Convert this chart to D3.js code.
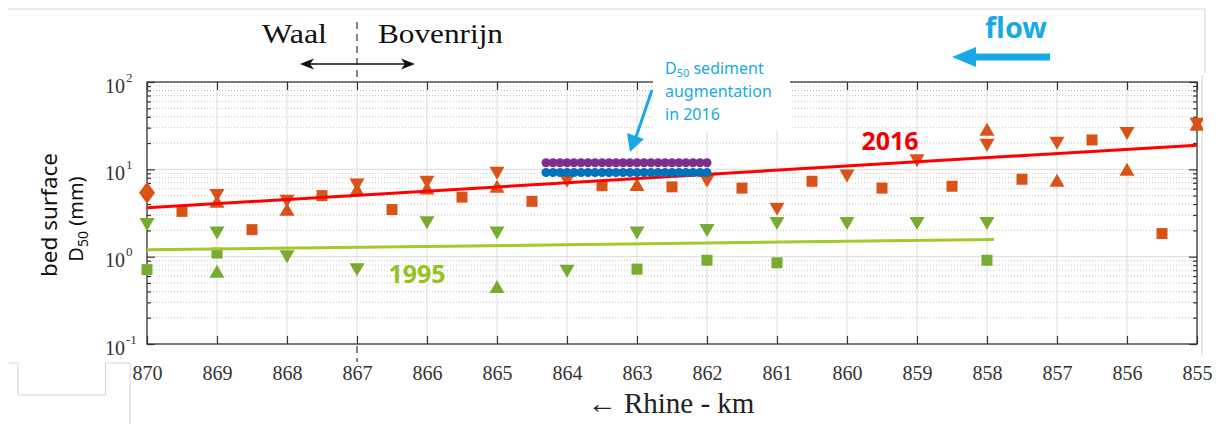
<!DOCTYPE html>
<html>
<head>
<meta charset="utf-8">
<script src="https://cdn.jsdelivr.net/npm/d3@7"></script>
<style>
    body { margin: 0; background: #fff; }
    svg { display: block; }
    .serif { font-family: 'Liberation Serif', 'Times New Roman', 'DejaVu Serif', serif; }
    .sans { font-family: 'Noto Sans', 'Open Sans', sans-serif; }
</style>
</head>
<body>
<div class="chart"></div>
<script>
// Data (km, D50 in mm).
const kmTicks = [870, 869, 868, 867, 866, 865, 864, 863, 862, 861, 860, 859, 858, 857, 856, 855];
const decadeTicks = [0.1, 1, 10, 100];
const decadeLabels = [['10', '-1'], ['10', '0'], ['10', '1'], ['10', '2']];

// 2016 survey (orange)
const down2016 = [[869, 5.0], [868, 4.3], [867, 6.6], [866, 7.1], [865, 9.0], [864, 7.3], [862, 7.3],
    [861, 3.5], [860, 8.4], [859, 12.5], [858, 18.9], [857, 19.9], [856, 25.7], [855, 32.9]];
const up2016 = [[869, 4.3], [868, 3.5], [867, 5.9], [866, 6.1], [865, 6.4], [863, 6.7],
    [858, 28.8], [857, 7.5], [856, 10.0], [855, 32.9]];
const square2016 = [[869.5, 3.3], [868.5, 2.04], [867.5, 5.0], [866.5, 3.47], [865.5, 4.8], [864.5, 4.3],
    [863.5, 6.5], [862.5, 6.3], [861.5, 6.1], [860.5, 7.3], [859.5, 6.1], [858.5, 6.4], [857.5, 7.7],
    [856.5, 21.7], [855.5, 1.84]];
const diamond2016 = [[870, 5.4]];

// 1995 survey (green)
const down1995 = [[870, 2.33], [869, 1.87], [868, 1.0], [867, 0.71], [866, 2.44], [865, 1.87], [864, 0.68],
    [863, 1.87], [862, 1.99], [861, 2.39], [860, 2.39], [859, 2.39], [858, 2.39]];
const square1995 = [[870, 0.71], [869, 1.10], [863, 0.72], [862, 0.91], [861, 0.85], [858, 0.91]];
const up1995 = [[869, 0.68], [865, 0.456]];

// trend lines
const trend2016 = [[870, 3.63], [855, 18.9]];
const trend1995 = [[870, 1.2], [857.9, 1.57]];

// sediment augmentation 2016
const augKm = [864.3, 864.2, 864.1, 864.0, 863.9, 863.8, 863.7, 863.6, 863.5, 863.4, 863.3, 863.2,
    863.1, 863.0, 862.9, 862.8, 862.7, 862.6, 862.5, 862.4, 862.3, 862.2, 862.1, 862.0];
const augPurpleD50 = 11.9;
const augBlueD50 = 9.2;

const ORANGE = '#D95319';
const GREEN = '#77AC30';
const CYAN = '#17A9E6';
const SERIF = "'Liberation Serif', 'Times New Roman', serif";

const svg = d3.select('.chart').append('svg')
    .attr('width', 1216)
    .attr('height', 424);

const area = {left: 147, right: 1197, top: 82, bottom: 344};

const x = d3.scaleLinear().domain([870, 855]).range([area.left, area.right]);
const y = d3.scaleLog().domain([0.1, 100]).range([area.bottom, area.top]);
const minorTicks = y.ticks().filter(d => !decadeTicks.some(t => Math.abs(t - d) < 1e-9));

// slide frame remnants
const frame = svg.append('g').attr('fill', 'none').attr('stroke', '#d6d6d6').attr('stroke-width', 1);
frame.append('path').attr('d', 'M8,9H1205V73');
frame.append('path').attr('d', 'M1202,75V357');
frame.append('path').attr('d', 'M9,363H18V395H105.5V363H130V424');

// divider Waal / Bovenrijn (only visible outside the axes box)
svg.append('line')
    .attr('x1', x(867)).attr('x2', x(867)).attr('y1', 22).attr('y2', 362)
    .attr('stroke', '#333').attr('stroke-width', 1.2).attr('stroke-dasharray', '7,5');
svg.append('rect')
    .attr('x', area.left).attr('y', area.top)
    .attr('width', area.right - area.left).attr('height', area.bottom - area.top)
    .attr('fill', '#fff');

// grid
const grid = svg.append('g');
grid.selectAll('.gy-minor')
    .data(minorTicks)
    .enter()
    .append('line')
    .attr('x1', area.left).attr('x2', area.right)
    .attr('y1', d => y(d)).attr('y2', d => y(d))
    .attr('stroke', '#c4c4c4').attr('stroke-dasharray', '1,2');
grid.selectAll('.gy-major')
    .data(decadeTicks.slice(1, -1))
    .enter()
    .append('line')
    .attr('x1', area.left).attr('x2', area.right)
    .attr('y1', d => y(d)).attr('y2', d => y(d))
    .attr('stroke', '#dcdcdc');
grid.selectAll('.gx')
    .data(kmTicks.slice(1, -1))
    .enter()
    .append('line')
    .attr('x1', d => x(d)).attr('x2', d => x(d))
    .attr('y1', area.top).attr('y2', area.bottom)
    .attr('stroke', '#dcdcdc');

// axes
function styleAxis(g) {
    g.select('.domain').remove();
    g.selectAll('line').attr('stroke', '#333').attr('stroke-width', 1.2);
}

svg.append('g')
    .attr('transform', `translate(0,${area.bottom})`)
    .call(d3.axisBottom(x).tickValues(kmTicks).tickSizeInner(-8).tickSizeOuter(0)
        .tickPadding(22).tickFormat(d3.format('d')))
    .call(styleAxis)
    .call(g => g.selectAll('text')
        .style('font-family', SERIF).style('font-size', '20px').attr('fill', '#333'));

svg.append('g')
    .attr('transform', `translate(0,${area.top})`)
    .call(d3.axisTop(x).tickValues(kmTicks).tickSizeInner(-8).tickSizeOuter(0).tickFormat(''))
    .call(styleAxis);

[[d3.axisLeft, area.left], [d3.axisRight, area.right]].forEach(([axisFn, pos]) => {
    svg.append('g')
        .attr('transform', `translate(${pos},0)`)
        .call(axisFn(y).tickValues(decadeTicks).tickSizeInner(-8).tickSizeOuter(0).tickFormat(''))
        .call(styleAxis);
    svg.append('g')
        .attr('transform', `translate(${pos},0)`)
        .call(axisFn(y).tickValues(minorTicks).tickSizeInner(-4).tickSizeOuter(0).tickFormat(''))
        .call(styleAxis);
});

svg.append('rect')
    .attr('x', area.left).attr('y', area.top)
    .attr('width', area.right - area.left).attr('height', area.bottom - area.top)
    .attr('fill', 'none').attr('stroke', '#333').attr('stroke-width', 1.3);

const yLabels = svg.append('g')
    .selectAll('text')
    .data(decadeTicks)
    .enter()
    .append('text')
    .attr('x', 105)
    .attr('y', d => y(d) + 10.5)
    .style('font-family', SERIF).style('font-size', '20px').attr('fill', '#333');
yLabels.append('tspan').text((d, i) => decadeLabels[i][0]);
yLabels.append('tspan').attr('dx', 1).attr('dy', -11).style('font-size', '13px').text((d, i) => decadeLabels[i][1]);

// markers
const plot = svg.append('g');
svg.append('clipPath').attr('id', 'clip')
    .append('rect').attr('x', 0).attr('y', 0).attr('width', 1203).attr('height', 424);
plot.attr('clip-path', 'url(#clip)');

const shapes = {
    down: 'M-7.5,-6.5L7.5,-6.5L0,6.5Z',
    up: 'M0,-6.5L7.5,6.5L-7.5,6.5Z',
    square: 'M-5.5,-5.5H5.5V5.5H-5.5Z',
    diamond: 'M0,-11L8,0L0,11L-8,0Z'
};

function drawMarkers(values, shape, color) {
    plot.append('g')
        .selectAll('path')
        .data(values)
        .enter()
        .append('path')
        .attr('d', shapes[shape])
        .attr('transform', d => `translate(${x(d[0])},${y(d[1])})`)
        .attr('fill', color);
}

drawMarkers(square2016, 'square', ORANGE);
drawMarkers(up2016, 'up', ORANGE);
drawMarkers(down2016, 'down', ORANGE);
drawMarkers(diamond2016, 'diamond', ORANGE);
drawMarkers(square1995, 'square', GREEN);
drawMarkers(up1995, 'up', GREEN);
drawMarkers(down1995, 'down', GREEN);

const line = d3.line().x(d => x(d[0])).y(d => y(d[1]));
plot.append('path').datum(trend1995).attr('d', line)
    .attr('fill', 'none').attr('stroke', '#A3C92A').attr('stroke-width', 3);
plot.append('path').datum(trend2016).attr('d', line)
    .attr('fill', 'none').attr('stroke', '#FF0000').attr('stroke-width', 3);

[[augPurpleD50, '#7E2F8E'], [augBlueD50, '#0072BD']].forEach(([level, color]) => {
    plot.append('g')
        .selectAll('circle')
        .data(augKm)
        .enter()
        .append('circle')
        .attr('cx', d => x(d))
        .attr('cy', y(level))
        .attr('r', 4.5)
        .attr('fill', color);
});

// annotation box for the augmentation note
svg.append('rect').attr('x', 653).attr('y', 48).attr('width', 137).attr('height', 83).attr('fill', '#fff');
const note = svg.append('g').attr('class', 'sans').style('font-size', '16px').attr('fill', CYAN);
const noteFirst = note.append('text').attr('x', 665).attr('y', 74);
noteFirst.append('tspan').text('D');
noteFirst.append('tspan').style('font-size', '11px').attr('dy', 3).text('50');
noteFirst.append('tspan').attr('dy', -3).text(' sediment');
note.append('text').attr('x', 665).attr('y', 97).text('augmentation');
note.append('text').attr('x', 665).attr('y', 120).text('in 2016');

svg.append('line')
    .attr('x1', 652).attr('y1', 90).attr('x2', 636).attr('y2', 137)
    .attr('stroke', CYAN).attr('stroke-width', 3);
svg.append('path').attr('d', 'M630,152L627,133L644,139Z').attr('fill', CYAN);

// year labels
svg.append('text').attr('class', 'sans').attr('x', 890).attr('y', 150).attr('text-anchor', 'middle')
    .attr('font-weight', 'bold').style('font-size', '25px')
    .attr('fill', '#F00000').text('2016');
svg.append('text').attr('class', 'sans').attr('x', 417).attr('y', 283).attr('text-anchor', 'middle')
    .attr('font-weight', 'bold').style('font-size', '25px')
    .attr('fill', '#96C11F').text('1995');

// Waal / Bovenrijn
svg.append('text').attr('class', 'serif').attr('x', 262).attr('y', 43).style('font-size', '28px')
    .attr('fill', '#111').attr('textLength', 65).attr('lengthAdjust', 'spacingAndGlyphs').text('Waal');
svg.append('text').attr('class', 'serif').attr('x', 378).attr('y', 43).style('font-size', '28px')
    .attr('fill', '#111').attr('textLength', 125).attr('lengthAdjust', 'spacingAndGlyphs').text('Bovenrijn');
svg.append('line').attr('x1', 305).attr('x2', 410).attr('y1', 64).attr('y2', 64)
    .attr('stroke', '#111').attr('stroke-width', 1.5);
svg.append('path').attr('d', 'M300,64L314,58.5L310,64L314,69.5Z').attr('fill', '#111');
svg.append('path').attr('d', 'M415,64L401,58.5L405,64L401,69.5Z').attr('fill', '#111');

// flow arrow
svg.append('text').attr('class', 'sans').attr('x', 1016).attr('y', 38).attr('text-anchor', 'middle')
    .attr('font-weight', 'bold').style('font-size', '28px')
    .attr('fill', CYAN).attr('textLength', 62).attr('lengthAdjust', 'spacingAndGlyphs').text('flow');
svg.append('line').attr('x1', 972).attr('x2', 1050).attr('y1', 57).attr('y2', 57)
    .attr('stroke', CYAN).attr('stroke-width', 7);
svg.append('path').attr('d', 'M952,57L976,47V67Z').attr('fill', CYAN);

// axis titles
const yTitle = svg.append('g').attr('class', 'sans').attr('fill', '#111');
yTitle.append('text')
    .attr('transform', 'translate(57,215) rotate(-90)')
    .attr('text-anchor', 'middle').style('font-size', '21px')
    .attr('textLength', 124).attr('lengthAdjust', 'spacingAndGlyphs')
    .text('bed surface');
const yTitle2 = yTitle.append('text')
    .attr('transform', 'translate(83,219) rotate(-90)')
    .attr('text-anchor', 'middle').style('font-size', '20px');
yTitle2.append('tspan').text('D');
yTitle2.append('tspan').style('font-size', '14px').attr('dy', 5).text('50');
yTitle2.append('tspan').attr('dy', -5).text(' (mm)');

svg.append('text').attr('class', 'serif').attr('x', 671).attr('y', 413).attr('text-anchor', 'middle')
    .style('font-size', '29px').attr('fill', '#222')
    .text('\u2190 Rhine - km');
</script>
</body>
</html>
